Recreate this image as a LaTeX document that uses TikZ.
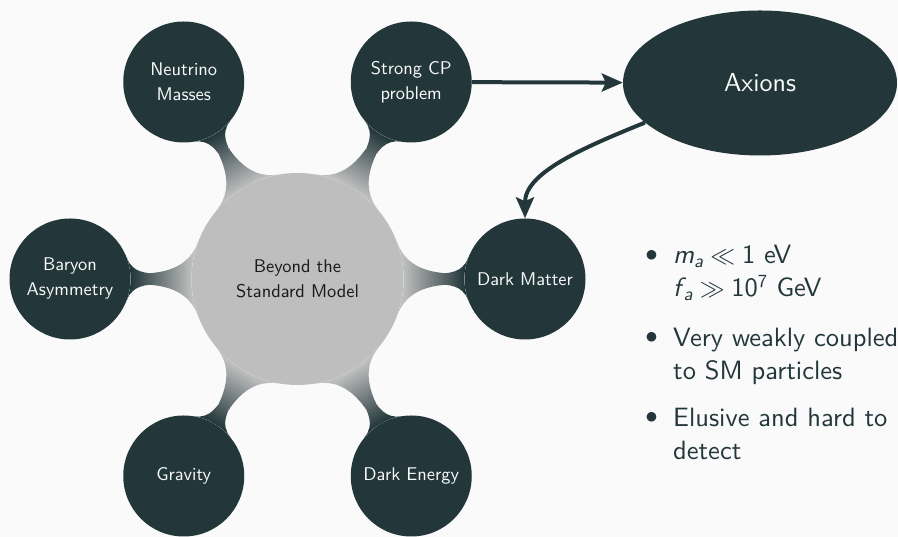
\documentclass[tikz,border=0pt]{standalone}
\usepackage{fontspec}
\newfontfamily\lmsten{lmsans10-regular.otf}[ItalicFont=lmsans10-oblique.otf]
\usetikzlibrary{mindmap,shapes.geometric,arrows.meta,decorations}
\definecolor{dark}{HTML}{23373B}
\definecolor{cgray}{HTML}{BEBEBE}
\definecolor{bgc}{HTML}{FAFAFA}
\pgfdeclarelayer{bg}
\pgfdeclarelayer{bars}
\pgfsetlayers{bg,bars,main}
\tikzset{
  leafnode/.style={circle,fill=dark,text=bgc,minimum size=121pt,inner sep=0pt,align=center,
    font=\lmsten\fontsize{18.4}{25}\selectfont},
  rootnode/.style={circle,fill=cgray,text=black!90,minimum size=212pt,inner sep=0pt,align=center,
    font=\lmsten\fontsize{18.4}{25}\selectfont},
  bignode/.style={ellipse,fill=dark,text=bgc,minimum width=274pt,minimum height=145pt,inner sep=0pt,
    font=\lmsten\fontsize{26}{30}\selectfont},
  bullettext/.style={anchor=base west,inner sep=0pt,text=dark,font=\lmsten\fontsize{26.5}{32}\selectfont},
  bulletdot/.style={inner sep=0pt,text=dark,font=\lmsten\fontsize{26.5}{32}\selectfont},
  link/.style={line width=4pt,draw=dark,-{Stealth[length=21pt,width=18pt,inset=4pt]}},
}
\begin{document}
\begin{tikzpicture}[x=1pt,y=1pt]
\begin{pgfonlayer}{bg}
\fill[bgc] (0,0) rectangle (898,537);
\end{pgfonlayer}
\useasboundingbox (0,0) rectangle (898,537);

\node[rootnode] (C) at (297.5,258) {Beyond the\\Standard Model};
\node[leafnode] (N) at (183.75,455) {Neutrino\\Masses};
\node[leafnode] (S) at (411.25,455) {Strong CP\\problem};
\node[leafnode] (B) at (70,258) {Baryon\\Asymmetry};
\node[leafnode] (D) at (525,258) {Dark Matter};
\node[leafnode] (G) at (183.75,61) {Gravity};
\node[leafnode] (E) at (411.25,61) {Dark Energy};
\node[bignode] (A) at (760,454) {Axions};

\begin{pgfonlayer}{bars}
\begin{scope}[mindmap]
\foreach \k in {N,S,B,D,G,E}{
  \path (C) to[circle connection bar switch color=from (cgray) to (dark)] (\k);
}
\end{scope}
\end{pgfonlayer}

\draw[link] (S) -- (A);
\draw[link] (A.199.5) .. controls +(202:70) and +(90:45) .. (D.north);

\node[bulletdot] (b1) at (651.7,281) {$\bullet$};
\node[bulletdot] (b2) at (651.7,199) {$\bullet$};
\node[bulletdot] (b3) at (651.7,119) {$\bullet$};
\node[bullettext] (t1) at (673,273) {\textit{m}\textsubscript{\textit{a}}\hspace{0.25em}$\ll$\hspace{0.25em}1 eV};
\node[bullettext] (t2) at (673,240) {\textit{f}\kern-0.1em\textsubscript{\textit{a}}\hspace{0.25em}$\gg$\hspace{0.25em}10\textsuperscript{7} GeV};
\node[bullettext] (t3) at (673,190) {Very weakly coupled};
\node[bullettext] (t4) at (673,157) {to SM particles};
\node[bullettext] (t5) at (673,110) {Elusive and hard to};
\node[bullettext] (t6) at (673,77) {detect};
\end{tikzpicture}
\end{document}
